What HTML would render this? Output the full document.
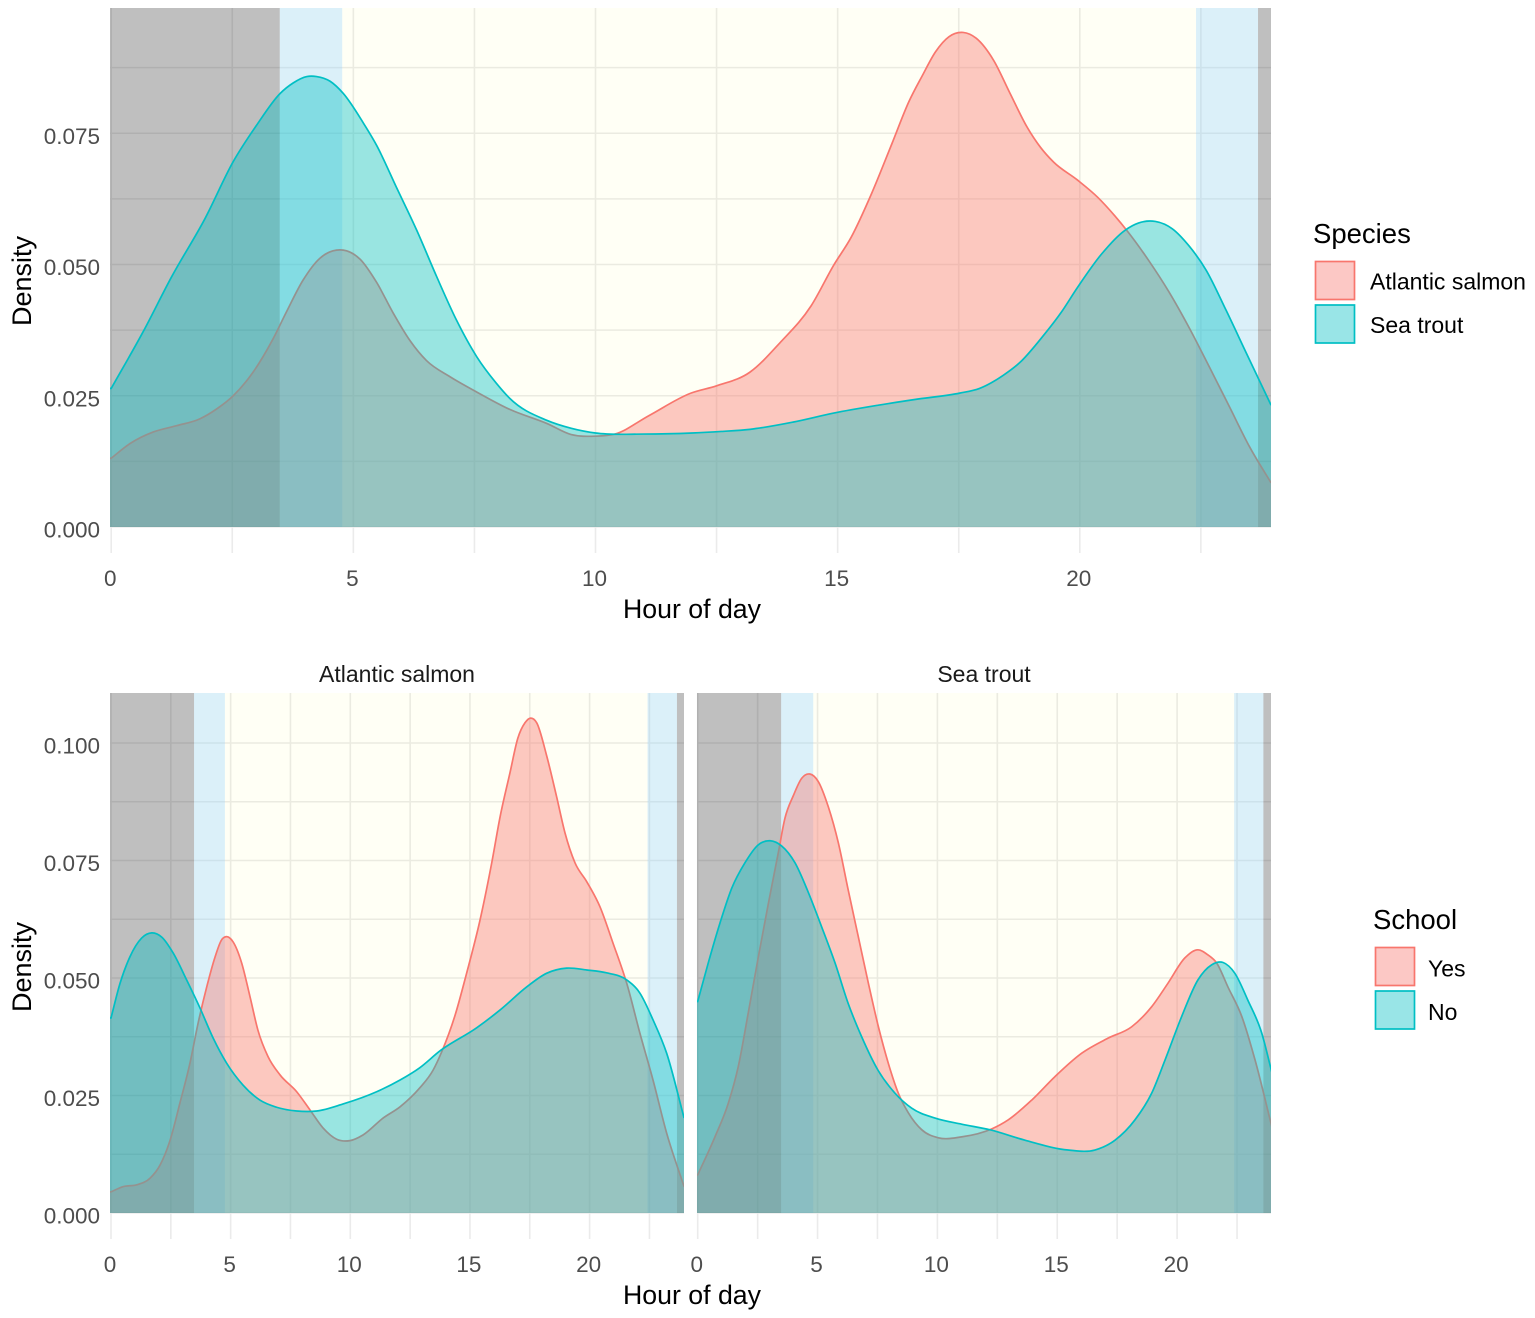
<!DOCTYPE html>
<html lang="en">
<head>
<meta charset="utf-8">
<title>Density of activity by hour of day</title>
<style>
html,body{margin:0;padding:0;background:#fff;}
svg{display:block;}
text{font-family:"Liberation Sans",Arial,sans-serif;}
</style>
</head>
<body>
<svg id="chart" xmlns="http://www.w3.org/2000/svg" width="1535" height="1318" viewBox="0 0 1535 1318"></svg>
<script>
// ---------- data ----------
const xTickLabels = [0, 5, 10, 15, 20];
const xGridHours = [0, 2.5, 5, 7.5, 10, 12.5, 15, 17.5, 20, 22.5];
const topYTicks = [0, 0.025, 0.05, 0.075];
const topYGrid = [0, 0.0125, 0.025, 0.0375, 0.05, 0.0625, 0.075, 0.0875];
const bottomYTicks = [0, 0.025, 0.05, 0.075, 0.1];
const bottomYGrid = [0, 0.0125, 0.025, 0.0375, 0.05, 0.0625, 0.075, 0.0875, 0.1];
const speciesNames = ["Atlantic salmon", "Sea trout"];
const schoolNames = ["Yes", "No"];

// Hour boundaries of the light periods: [start, end]
const topNight = [[0, 3.48], [23.68, 24]];
const topTwilight = [[3.48, 4.77], [22.4, 23.68]];
const topDay = [[4.77, 22.4]];
const salmonNight = [[0, 3.47], [23.65, 24]];
const salmonTwilight = [[3.47, 4.76], [22.42, 23.65]];
const salmonDay = [[4.76, 22.42]];
const troutNight = [[0, 3.48], [23.6, 24]];
const troutTwilight = [[3.48, 4.82], [22.38, 23.6]];
const troutDay = [[4.82, 22.38]];

const topSalmonHours = [0,0.39,0.87,1.35,1.83,2.18,2.52,2.93,3.34,3.62,3.96,4.31,4.58,4.86,5.14,5.48,5.82,6.17,6.51,7,7.55,8.23,9,9.5,10,10.4,11.1,11.97,12.5,13.19,13.82,14.45,14.92,15.28,15.7,16.12,16.47,16.75,17.02,17.3,17.59,17.86,18.22,18.56,18.91,19.19,19.46,19.95,20.37,20.72,20.97,21.42,21.84,22.25,22.68,23.09,23.51,23.95];
const topSalmonDensity = [0.0131,0.0159,0.0181,0.0193,0.0206,0.0225,0.025,0.0295,0.0358,0.041,0.047,0.0512,0.0526,0.0526,0.051,0.0466,0.0408,0.0355,0.0317,0.0286,0.0257,0.0224,0.0197,0.0176,0.0173,0.0177,0.0212,0.0255,0.0269,0.0295,0.0352,0.0421,0.0499,0.0552,0.0635,0.073,0.081,0.086,0.0905,0.0934,0.0942,0.0931,0.0889,0.0826,0.0762,0.0723,0.0695,0.0661,0.0628,0.0593,0.0565,0.0508,0.0448,0.0381,0.0304,0.0229,0.0152,0.0084];

const topTroutHours = [0,0.66,1.25,1.94,2.52,3,3.49,3.76,4.04,4.24,4.52,4.79,5.21,5.48,5.9,6.31,6.72,7.13,7.55,7.96,8.23,9,9.5,10,11,12,12.6,13.19,14.09,14.92,15.84,16.68,17.52,17.93,18.42,18.77,19.19,19.61,19.95,20.45,20.93,21.21,21.56,21.91,22.25,22.61,23.02,23.44,23.95];
const topTroutDensity = [0.0264,0.0372,0.0477,0.0588,0.0696,0.0765,0.0826,0.0846,0.0858,0.0858,0.0849,0.0826,0.0769,0.0727,0.0645,0.0565,0.0477,0.0394,0.0324,0.0273,0.0245,0.0203,0.0188,0.0179,0.0177,0.0179,0.0182,0.0186,0.02,0.0217,0.0232,0.0244,0.0255,0.0264,0.0289,0.0314,0.0358,0.0408,0.0456,0.052,0.0565,0.0579,0.0582,0.0568,0.0536,0.0489,0.0413,0.0331,0.0232];

const salmonYesHours = [0,0.5,1.07,1.63,2.05,2.47,2.88,3.3,3.64,4,4.35,4.62,4.83,5.1,5.46,5.81,6.14,6.56,7.06,7.76,8.32,8.86,9.43,9.99,10.53,11.37,12.08,12.9,13.46,13.82,14.38,14.86,15.42,15.91,16.26,16.67,17,17.3,17.54,17.79,18.2,18.62,18.97,19.39,19.88,20.43,20.98,21.55,22.1,22.65,23.22,23.95];
const salmonYesDensity = [0.0045,0.0056,0.006,0.0074,0.0102,0.0155,0.0234,0.0319,0.0404,0.0481,0.0545,0.0581,0.0588,0.0577,0.0532,0.046,0.0389,0.0333,0.0294,0.0258,0.0219,0.0181,0.0157,0.0154,0.0166,0.0202,0.0226,0.0266,0.0304,0.0343,0.0421,0.051,0.0623,0.0745,0.0843,0.0936,0.101,0.1043,0.1053,0.1043,0.0974,0.0886,0.0809,0.0745,0.0705,0.0652,0.0574,0.0489,0.0383,0.0283,0.017,0.0056];

const salmonNoHours = [0,0.38,0.79,1.28,1.7,2.12,2.6,3.16,3.72,4.27,4.83,5.52,6.23,6.92,7.76,8.6,9.7,11.1,12.08,12.9,13.75,15.28,16.26,17.37,18.2,19.04,19.88,20.71,21.55,22.1,22.65,23.22,23.95];
const salmonNoDensity = [0.0415,0.0489,0.0545,0.0585,0.0596,0.0587,0.0553,0.0496,0.0436,0.0372,0.0319,0.0272,0.024,0.0225,0.0217,0.0217,0.0232,0.0258,0.0283,0.0309,0.0345,0.0394,0.0432,0.0481,0.051,0.0521,0.0517,0.0511,0.0496,0.0468,0.0411,0.034,0.0202];

const troutYesHours = [0,0.72,1.28,1.69,2.11,2.53,2.95,3.36,3.64,3.99,4.34,4.68,5.03,5.45,5.87,6.28,6.7,7.12,7.54,7.95,8.37,8.79,9.35,10.04,11.01,12.27,12.95,13.93,14.9,16.02,17.12,18.1,18.94,19.62,20.33,20.87,21.29,21.65,22.12,22.7,23.25,23.95];
const troutYesDensity = [0.0081,0.0162,0.0234,0.0311,0.0426,0.0545,0.0659,0.0766,0.084,0.0888,0.0925,0.0934,0.0918,0.0864,0.0787,0.0687,0.0588,0.0489,0.0396,0.0319,0.0255,0.0213,0.0177,0.016,0.0162,0.0179,0.0198,0.024,0.029,0.034,0.0372,0.0396,0.0439,0.0489,0.0543,0.056,0.0549,0.0532,0.0481,0.0418,0.0326,0.0184];

const troutNoHours = [0,0.44,0.93,1.42,1.97,2.52,3.02,3.5,4.06,4.6,5.17,5.73,6.27,6.84,7.52,8.23,8.93,9.9,11.01,12.2,13.65,15.45,16.57,17.41,18.24,18.94,19.5,20.19,20.87,21.44,21.92,22.41,22.95,23.53,23.95];
const troutNoDensity = [0.045,0.0532,0.0617,0.0691,0.0745,0.0783,0.0792,0.0781,0.0745,0.0684,0.0609,0.0532,0.0447,0.0375,0.0304,0.0255,0.0223,0.0202,0.0189,0.0177,0.0155,0.0134,0.0134,0.0155,0.0198,0.0255,0.0326,0.0418,0.0496,0.0528,0.0533,0.051,0.0453,0.0383,0.03];

// ---------- helpers ----------
const NS = "http://www.w3.org/2000/svg";
const svg = document.getElementById("chart");
const RED = "#F8766D", TEAL = "#00BFC4";
const GRID = "#ebebeb", TICK = "#4d4d4d", DARK = "#1a1a1a";
const defs = document.createElementNS(NS, "defs");
svg.appendChild(defs);
let clipCount = 0;

function el(tag, parent, attrs) {
  const e = document.createElementNS(NS, tag);
  for (const k in attrs) e.setAttribute(k, attrs[k]);
  parent.appendChild(e);
  return e;
}
function label(parent, x, y, str, size, fill, anchor) {
  const t = el("text", parent, { x: x, y: y, "font-size": size, fill: fill, "text-anchor": anchor || "middle" });
  t.textContent = str;
  return t;
}
// Cubic Hermite spline with non-uniform finite-difference tangents
function smoothPath(pts) {
  const n = pts.length;
  const slope = [];
  for (let i = 0; i < n - 1; i++) slope.push((pts[i + 1][1] - pts[i][1]) / (pts[i + 1][0] - pts[i][0]));
  const m = pts.map((p, i) => {
    if (i === 0) return slope[0];
    if (i === n - 1) return slope[n - 2];
    const h0 = pts[i][0] - pts[i - 1][0], h1 = pts[i + 1][0] - pts[i][0];
    return (slope[i - 1] * h1 + slope[i] * h0) / (h0 + h1);
  });
  let d = "";
  for (let i = 0; i < n - 1; i++) {
    const dx = (pts[i + 1][0] - pts[i][0]) / 3;
    d += " C" + (pts[i][0] + dx).toFixed(2) + " " + (pts[i][1] + m[i] * dx).toFixed(2) + " " +
      (pts[i + 1][0] - dx).toFixed(2) + " " + (pts[i + 1][1] - m[i + 1] * dx).toFixed(2) + " " +
      pts[i + 1][0].toFixed(2) + " " + pts[i + 1][1].toFixed(2);
  }
  return d;
}

function drawPanel(cfg) {
  const sx = h => cfg.x0 + h * cfg.pxPerHour;
  const sy = v => cfg.bottom - v * cfg.pxPerUnit;

  const g = el("g", svg, {});
  
  

  const clipId = "panel-clip-" + (++clipCount);
  const clip = el("clipPath", defs, { id: clipId });
  el("rect", clip, { x: cfg.left, y: cfg.top, width: cfg.right - cfg.left, height: cfg.bottom - cfg.top + 1 });

  // Grid
  const grid = el("g", g, { stroke: GRID, "stroke-width": 1.6, fill: "none" });
  
  
  cfg.yGrid.forEach(v => {
    const line = el("line", grid, { x1: cfg.left, x2: cfg.right, y1: sy(v), y2: sy(v) });
    
    
  });
  xGridHours.forEach(h => {
    const line = el("line", grid, { x1: sx(h), x2: sx(h), y1: cfg.top, y2: cfg.bottom + 26 });
    
    
  });

  const plot = el("g", g, { "clip-path": "url(#" + clipId + ")" });
  
  

  // Light period bands
  const drawBands = (list, fill, bandName) => {
    list.forEach(b => {
      const x1 = b[0] === 0 ? cfg.left : sx(b[0]);
      const x2 = b[1] === 24 ? cfg.right : sx(b[1]);
      const r = el("rect", plot, { x: x1, y: cfg.top, width: x2 - x1, height: cfg.bottom - cfg.top, fill: fill });
      
      
    });
  };
  drawBands(cfg.day, "rgba(255,255,0,0.04)", "daylight-band");
  drawBands(cfg.twilight, "rgba(135,206,235,0.3)", "twilight-band");
  drawBands(cfg.night, "rgba(0,0,0,0.25)", "night-band");

  // Density series
  cfg.series.forEach(s => {
    const pts = s.hours.map((h, i) => [sx(h), sy(s.values[i])]);
    const curve = smoothPath(pts);
    const first = pts[0], last = pts[pts.length - 1];
    const area = el("path", plot, {
      d: "M" + cfg.left + " " + sy(0) + " L" + cfg.left + " " + first[1] + " L" + first[0] + " " + first[1] + curve + " L" + last[0] + " " + sy(0) + " Z",
      fill: s.color, "fill-opacity": 0.4, stroke: "none"
    });
    
    
    const line = el("path", plot, {
      d: "M" + cfg.left + " " + first[1] + " L" + first[0] + " " + first[1] + curve,
      fill: "none", stroke: s.color, "stroke-width": 1.7
    });
    
    
  });

  // X tick labels
  xTickLabels.forEach(h => {
    const t = label(g, sx(h) - 1, cfg.bottom + 59, String(h), 22.5, TICK);
    
    
  });

  // Y tick labels
  if (cfg.yTicks) {
    cfg.yTicks.forEach(v => {
      const t = label(g, 100, sy(v) + 10.5, v.toFixed(3), 22.5, TICK, "end");
      
      
    });
  }

  // Facet strip title
  if (cfg.strip) {
    const t = label(g, (cfg.left + cfg.right) / 2, cfg.top - 11, cfg.strip, 23, DARK);
    
    
  }
}

function drawLegend(cfg) {
  const g = el("g", svg, {});
  
  
  const title = label(g, cfg.titleX, cfg.titleY, cfg.title, 27.5, "#000", "start");
  
  
  cfg.names.forEach((n, i) => {
    const y = cfg.keyY + i * cfg.step;
    const color = i === 0 ? RED : TEAL;
    const key = el("rect", g, { x: cfg.keyX, y: y, width: 39, height: 38, fill: color, "fill-opacity": 0.4, stroke: color, "stroke-width": 1.7 });
    
    
    const t = label(g, cfg.labelX, y + cfg.labelDy, n, 23, "#000", "start");
    
    
  });
}

// ---------- top panel ----------
drawPanel({
  name: "species-density-panel", left: 110, right: 1271, x0: 111.2, pxPerHour: 48.43, top: 8, bottom: 527, pxPerUnit: 5250,
  yGrid: topYGrid, yTicks: topYTicks, night: topNight, twilight: topTwilight, day: topDay,
  series: [
    { name: "atlantic-salmon", color: RED, hours: topSalmonHours, values: topSalmonDensity },
    { name: "sea-trout", color: TEAL, hours: topTroutHours, values: topTroutDensity }
  ]
});

// ---------- bottom panels ----------
drawPanel({
  name: "atlantic-salmon-panel", left: 110, right: 684, x0: 111, pxPerHour: 23.93, top: 693, bottom: 1213, pxPerUnit: 4700,
  yGrid: bottomYGrid, yTicks: bottomYTicks, strip: "Atlantic salmon",
  night: salmonNight, twilight: salmonTwilight, day: salmonDay,
  series: [
    { name: "school-yes", color: RED, hours: salmonYesHours, values: salmonYesDensity },
    { name: "school-no", color: TEAL, hours: salmonNoHours, values: salmonNoDensity }
  ]
});
drawPanel({
  name: "sea-trout-panel", left: 697, right: 1271, x0: 697.7, pxPerHour: 23.97, top: 693, bottom: 1213, pxPerUnit: 4700,
  yGrid: bottomYGrid, yTicks: null, strip: "Sea trout",
  night: troutNight, twilight: troutTwilight, day: troutDay,
  series: [
    { name: "school-yes", color: RED, hours: troutYesHours, values: troutYesDensity },
    { name: "school-no", color: TEAL, hours: troutNoHours, values: troutNoDensity }
  ]
});

// ---------- axis titles ----------
const xTitleTop = label(svg, 692, 618, "Hour of day", 26.7, "#000");


const xTitleBottom = label(svg, 692, 1304, "Hour of day", 26.7, "#000");


const yTitleTop = label(svg, 0, 0, "Density", 27, "#000");
yTitleTop.setAttribute('transform', 'translate(31,281) rotate(-90)');


const yTitleBottom = label(svg, 0, 0, "Density", 27, "#000");
yTitleBottom.setAttribute('transform', 'translate(31,967) rotate(-90)');



// ---------- legends ----------
drawLegend({ name: "species-legend", title: "Species", titleX: 1313, titleY: 243, names: speciesNames, keyX: 1315.5, keyY: 261.5, step: 43.5, labelX: 1370, labelDy: 28 });
drawLegend({ name: "school-legend", title: "School", titleX: 1373, titleY: 929, names: schoolNames, keyX: 1375.5, keyY: 947.5, step: 43.5, labelX: 1428, labelDy: 29 });
</script>
</body>
</html>
